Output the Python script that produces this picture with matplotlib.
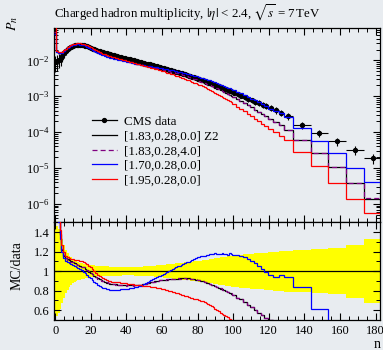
import numpy as np
import matplotlib
matplotlib.use("Agg")
import matplotlib.pyplot as plt
from matplotlib.lines import Line2D
from matplotlib.ticker import MultipleLocator, LogLocator, NullFormatter, FixedLocator

# ---- binning: width 1 up to 99.5, width 2 up to 119.5, then wider tail bins
edges = np.concatenate([np.arange(-0.5, 100.0, 1.0),
                        np.arange(101.5, 120.0, 2.0),
                        [122.5, 125.5, 128.5, 133.5, 143.5, 153.5, 163.5, 173.5, 183.5]])

# CMS data P_n (units of 1e-3)
data_pn = [
    8.9, 9.5, 10.5, 11.7, 13.5, 15.8, 18.2, 20.4, 22.4, 24.0,
    25.1, 26.0, 26.6, 26.9, 26.9, 26.6, 26.0, 25.1, 24.3, 23.2,
    22.1, 21.1, 20.2, 19.3, 18.4, 17.8, 17.2, 16.6, 16.0, 15.5,
    15.0, 14.6, 14.2, 13.8, 13.4, 13.0, 12.6, 12.25, 11.9, 11.55,
    11.2, 10.9, 10.6, 10.3, 10.0, 9.7, 9.45, 9.2, 8.9, 8.65,
    8.4, 8.15, 7.9, 7.7, 7.45, 7.25, 7.05, 6.85, 6.65, 6.45,
    6.25, 6.05, 5.85, 5.67, 5.49, 5.31, 5.14, 4.97, 4.81, 4.65,
    4.5, 4.34, 4.18, 4.03, 3.88, 3.74, 3.6, 3.47, 3.35, 3.23,
    3.11, 2.98, 2.86, 2.75, 2.63, 2.53, 2.42, 2.33, 2.23, 2.14,
    2.05, 1.96, 1.87, 1.79, 1.71, 1.63, 1.56, 1.49, 1.42, 1.36,
    1.27, 1.15, 1.045, 0.95, 0.862, 0.783, 0.71, 0.645, 0.585, 0.53,
    0.47, 0.41, 0.35, 0.28, 0.16, 0.095, 0.055, 0.032, 0.019,
]

# relative data uncertainty (yellow band)
data_relerr = [
    0.48, 0.46, 0.43, 0.39, 0.33, 0.27, 0.22, 0.19, 0.16, 0.14,
    0.125, 0.112, 0.102, 0.094, 0.087, 0.081, 0.076, 0.072, 0.068, 0.065,
    0.062, 0.06, 0.058, 0.056, 0.054, 0.053, 0.052, 0.051, 0.05, 0.049,
    0.048, 0.047, 0.047, 0.046, 0.046, 0.045, 0.045, 0.045, 0.044, 0.044,
    0.044, 0.044, 0.044, 0.044, 0.044, 0.045, 0.045, 0.046, 0.046, 0.047,
    0.048, 0.049, 0.05, 0.051, 0.052, 0.054, 0.056, 0.058, 0.06, 0.062,
    0.064, 0.066, 0.068, 0.07, 0.072, 0.074, 0.076, 0.078, 0.08, 0.082,
    0.084, 0.086, 0.088, 0.09, 0.092, 0.094, 0.096, 0.098, 0.1, 0.102,
    0.104, 0.106, 0.108, 0.11, 0.113, 0.116, 0.119, 0.122, 0.125, 0.128,
    0.131, 0.134, 0.137, 0.14, 0.143, 0.146, 0.149, 0.152, 0.155, 0.158,
    0.161, 0.165, 0.169, 0.172, 0.175, 0.178, 0.181, 0.184, 0.187, 0.19,
    0.195, 0.2, 0.205, 0.21, 0.215, 0.225, 0.235, 0.27, 0.33,
]

# MC / data ratios
ratio_z2 = [
    7.0, 1.80, 1.55, 1.38, 1.22, 1.16, 1.13, 1.12, 1.11, 1.10,
    1.09, 1.08, 1.07, 1.06, 1.05, 1.045, 1.04, 1.025, 1.01, 0.995,
    0.985, 0.97, 0.955, 0.94, 0.925, 0.915, 0.905, 0.897, 0.89, 0.883,
    0.877, 0.873, 0.869, 0.866, 0.864, 0.862, 0.86, 0.858, 0.857, 0.856,
    0.855, 0.854, 0.856, 0.855, 0.855, 0.857, 0.858, 0.86, 0.862, 0.864,
    0.867, 0.871, 0.876, 0.881, 0.886, 0.89, 0.895, 0.9, 0.903, 0.906,
    0.909, 0.911, 0.913, 0.914, 0.916, 0.917, 0.918, 0.92, 0.921, 0.923,
    0.925, 0.927, 0.93, 0.928, 0.926, 0.925, 0.923, 0.921, 0.918, 0.914,
    0.91, 0.905, 0.9, 0.895, 0.889, 0.883, 0.876, 0.869, 0.862, 0.854,
    0.846, 0.838, 0.83, 0.822, 0.813, 0.805, 0.796, 0.787, 0.779, 0.77,
    0.755, 0.73, 0.71, 0.685, 0.655, 0.63, 0.6, 0.575, 0.55, 0.525,
    0.5, 0.47, 0.44, 0.41, 0.37, 0.275, 0.19, 0.12, 0.074,
]

ratio_z2_pt4 = [
    7.0, 1.81, 1.56, 1.37, 1.23, 1.165, 1.135, 1.118, 1.108, 1.098,
    1.092, 1.078, 1.072, 1.058, 1.052, 1.043, 1.038, 1.027, 1.008, 0.997,
    0.983, 0.972, 0.953, 0.942, 0.923, 0.917, 0.903, 0.899, 0.888, 0.885,
    0.875, 0.875, 0.867, 0.868, 0.862, 0.864, 0.858, 0.86, 0.855, 0.858,
    0.853, 0.856, 0.854, 0.857, 0.853, 0.859, 0.856, 0.862, 0.86, 0.866,
    0.865, 0.873, 0.874, 0.883, 0.884, 0.892, 0.893, 0.902, 0.901, 0.908,
    0.907, 0.913, 0.911, 0.916, 0.914, 0.919, 0.916, 0.922, 0.919, 0.925,
    0.923, 0.929, 0.928, 0.93, 0.924, 0.927, 0.921, 0.923, 0.916, 0.916,
    0.908, 0.907, 0.898, 0.897, 0.887, 0.885, 0.874, 0.871, 0.86, 0.856,
    0.844, 0.84, 0.828, 0.824, 0.811, 0.807, 0.794, 0.789, 0.777, 0.772,
    0.757, 0.728, 0.712, 0.683, 0.657, 0.628, 0.602, 0.573, 0.552, 0.523,
    0.502, 0.468, 0.442, 0.408, 0.372, 0.273, 0.192, 0.119, 0.075,
]

ratio_170 = [
    6.0, 1.75, 1.50, 1.33, 1.20, 1.13, 1.10, 1.09, 1.08, 1.07,
    1.06, 1.05, 1.04, 1.03, 1.02, 1.01, 0.995, 0.978, 0.96, 0.943,
    0.925, 0.907, 0.89, 0.875, 0.86, 0.85, 0.84, 0.832, 0.825, 0.82,
    0.815, 0.812, 0.81, 0.809, 0.809, 0.81, 0.811, 0.813, 0.815, 0.817,
    0.818, 0.82, 0.823, 0.826, 0.83, 0.835, 0.84, 0.846, 0.853, 0.861,
    0.87, 0.88, 0.89, 0.9, 0.91, 0.92, 0.93, 0.938, 0.947, 0.955,
    0.963, 0.971, 0.98, 0.99, 1.0, 1.01, 1.02, 1.03, 1.04, 1.048,
    1.057, 1.065, 1.073, 1.082, 1.09, 1.098, 1.107, 1.115, 1.123, 1.132,
    1.14, 1.147, 1.153, 1.16, 1.155, 1.17, 1.165, 1.18, 1.172, 1.175,
    1.183, 1.176, 1.18, 1.172, 1.185, 1.175, 1.178, 1.17, 1.182, 1.175,
    1.17, 1.17, 1.155, 1.14, 1.12, 1.1, 1.08, 1.05, 1.02, 0.995,
    0.96, 0.935, 0.965, 0.945, 0.84, 0.61, 0.48, 0.32, 0.22,
]

ratio_195 = [
    10.0, 1.95, 1.60, 1.42, 1.27, 1.20, 1.16, 1.14, 1.13, 1.125,
    1.12, 1.118, 1.115, 1.11, 1.105, 1.1, 1.095, 1.083, 1.07, 1.055,
    1.04, 1.02, 1.0, 0.982, 0.965, 0.95, 0.935, 0.925, 0.915, 0.907,
    0.9, 0.896, 0.893, 0.89, 0.888, 0.887, 0.885, 0.883, 0.88, 0.878,
    0.875, 0.873, 0.87, 0.868, 0.865, 0.863, 0.86, 0.858, 0.855, 0.853,
    0.85, 0.848, 0.845, 0.843, 0.84, 0.837, 0.835, 0.831, 0.828, 0.824,
    0.82, 0.815, 0.81, 0.805, 0.8, 0.795, 0.79, 0.785, 0.78, 0.774,
    0.768, 0.761, 0.755, 0.749, 0.743, 0.737, 0.73, 0.725, 0.72, 0.715,
    0.71, 0.704, 0.698, 0.692, 0.685, 0.675, 0.665, 0.655, 0.645, 0.63,
    0.615, 0.6, 0.588, 0.576, 0.565, 0.553, 0.541, 0.53, 0.515, 0.5,
    0.48, 0.45, 0.42, 0.4, 0.375, 0.35, 0.33, 0.31, 0.29, 0.275,
    0.26, 0.245, 0.23, 0.215, 0.175, 0.117, 0.071, 0.044, 0.03,
]

labels = ["CMS data", "[1.83,0.28,0.0] Z2", "[1.83,0.28,4.0]",
          "[1.70,0.28,0.0]", "[1.95,0.28,0.0]"]
title = r"Charged hadron multiplicity, $\vert\eta\vert$ < 2.4, $\sqrt{s}$ = 7$\,$TeV"

bg = "#e8ecf0"
plt.rcParams["font.family"] = "serif"
plt.rcParams["font.serif"] = ["Liberation Serif", "DejaVu Serif"]
plt.rcParams["mathtext.fontset"] = "stix"
plt.rcParams["font.size"] = 9

data = np.array(data_pn) * 1e-3
err = np.array(data_relerr)
centers = 0.5 * (edges[:-1] + edges[1:])
halfw = 0.5 * np.diff(edges)

mc = [(ratio_z2, "black", "-"), (ratio_z2_pt4, "#800080", (0, (4, 2.5))),
      (ratio_170, "#0000ff", "-"), (ratio_195, "#ff0000", "-")]

fig = plt.figure(figsize=(3.83, 3.5), dpi=100)
fig.patch.set_facecolor(bg)
ax = fig.add_axes([0.1418, 0.3649, 0.8504, 0.556])
rax = fig.add_axes([0.1418, 0.0857, 0.8504, 0.2792], sharex=ax)
for a in (ax, rax):
    a.set_facecolor(bg)

# main panel
ax.errorbar(centers, data, yerr=data * err, xerr=halfw, fmt="o", ms=2.8,
            color="black", elinewidth=0.8, capsize=0, zorder=3)
for r, col, ls in mc:
    ax.stairs(data * np.array(r), edges, baseline=None, color=col, ls=ls, lw=0.9, zorder=4)
ax.set_yscale("log")
ax.set_ylim(3.1e-7, 0.081)
ax.set_xlim(-0.5, 182.5)
ax.yaxis.set_major_locator(FixedLocator([1e-6, 1e-5, 1e-4, 1e-3, 1e-2]))
ax.yaxis.set_minor_locator(LogLocator(base=10, subs=np.arange(2, 10)))
ax.yaxis.set_minor_formatter(NullFormatter())
ax.tick_params(axis="x", labelbottom=False)

handles = [Line2D([], [], color="black", marker="o", ms=2.8, lw=0.9)]
handles += [Line2D([], [], color=col, ls=ls, lw=0.9) for _, col, ls in mc]
ax.legend(handles, labels, loc="upper left", bbox_to_anchor=(0.115, 0.548),
          frameon=False, fontsize=9.4, handlelength=1.9, handletextpad=0.6,
          labelspacing=0.2, borderpad=0, borderaxespad=0)

# ratio panel
rax.stairs(1 + err, edges, baseline=1 - err, fill=True, color="#ffff00", lw=0, zorder=1)
rax.axhline(1.0, color="black", lw=0.9, zorder=2)
for r, col, ls in mc:
    rax.stairs(r, edges, baseline=None, color=col, ls=ls, lw=0.9, zorder=3)
rax.set_ylim(0.5, 1.5)
rax.yaxis.set_major_locator(FixedLocator([0.6, 0.8, 1.0, 1.2, 1.4]))
rax.set_yticklabels(["0.6", "0.8", "1", "1.2", "1.4"])
rax.yaxis.set_minor_locator(MultipleLocator(0.1))
rax.xaxis.set_major_locator(MultipleLocator(20))

for a in (ax, rax):
    a.xaxis.set_minor_locator(MultipleLocator(5))
    a.tick_params(which="both", direction="in", top=True, right=True, labelsize=9)
    a.tick_params(which="major", length=5, width=0.8)
    a.tick_params(which="minor", length=2.6, width=0.7)
    for s in a.spines.values():
        s.set_linewidth(0.9)

fig.text(54 / 383, 1 - 13 / 350, title, ha="left", va="center", fontsize=9.3)
fig.text(13 / 383, 1 - 16 / 350, "$P_n$", rotation=90, ha="center", va="top", fontsize=10)
fig.text(17 / 383, 1 - 266 / 350, "MC/data", rotation=90, ha="center", va="center", fontsize=10)
fig.text(377 / 383, 1 - 345 / 350, "n", ha="center", va="center", fontsize=10)

fig.savefig("out.png", dpi=100, facecolor=bg)
